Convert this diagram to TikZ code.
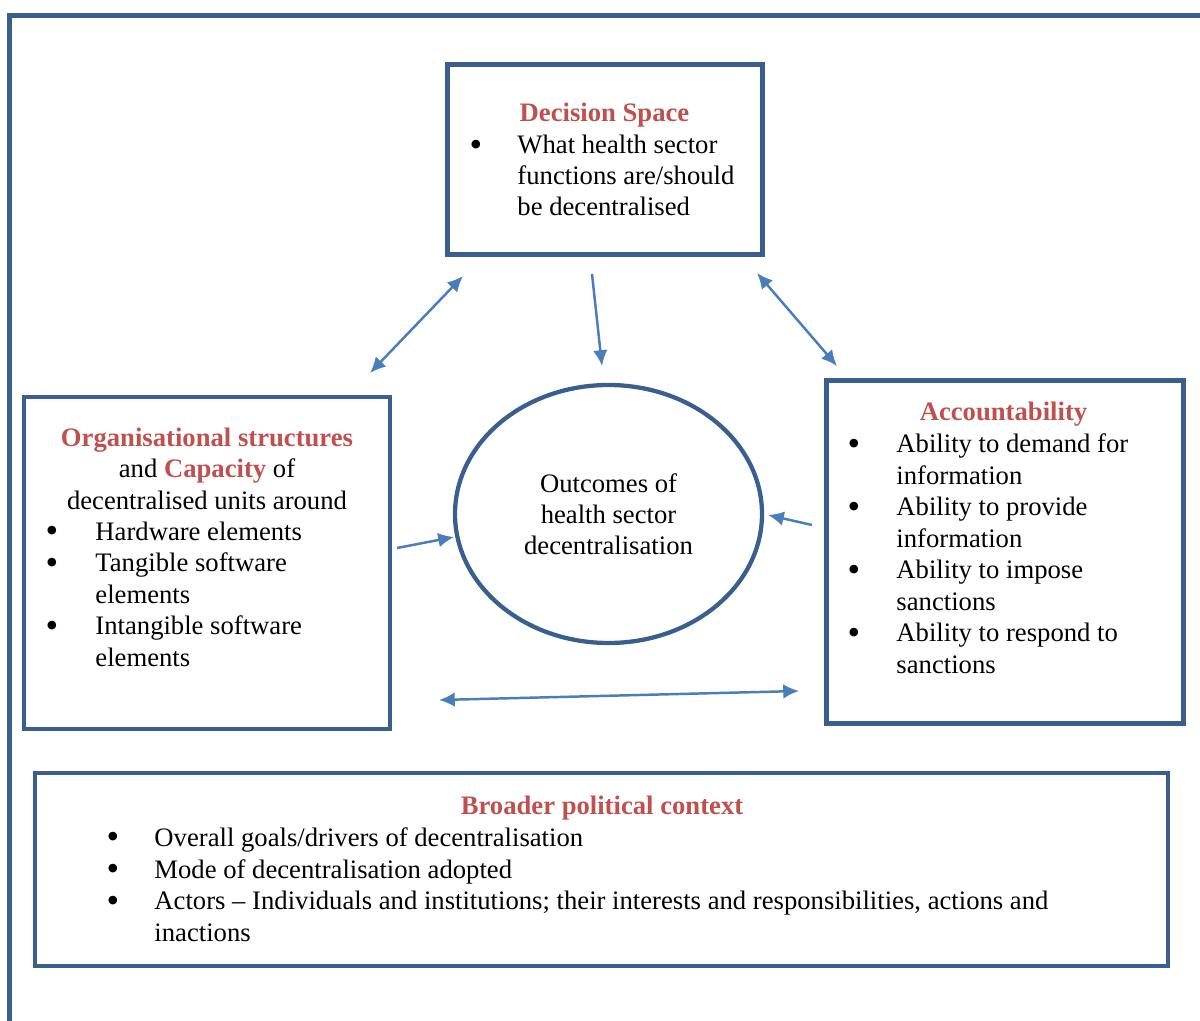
\documentclass[tikz,border=0pt]{standalone}
\usepackage{fontspec}
\setmainfont{Liberation Serif}
\usepackage{tikz}
\usetikzlibrary{arrows.meta}
\usetikzlibrary{shapes.geometric}
\definecolor{frameblue}{HTML}{3A5F8F}
\definecolor{linkblue}{HTML}{4A7EBB}
\definecolor{headred}{HTML}{C0504D}
\newcommand\unitpx{0.4444pt}
\newcommand\bodyfont{\fontsize{11.85}{13.8}\selectfont}
\newcommand\hl[1]{\textcolor{headred}{\bfseries #1}}
\tikzset{>={Latex[length=7pt,width=6.5pt]}}
\tikzset{
    outline/.style = {draw=frameblue, line width=1.9pt},
    box/.style = {outline, rectangle, inner sep=0pt},
    goal/.style = {outline, ellipse, inner sep=0pt, align=center, font=\bodyfont},
    link/.style = {draw=linkblue, line width=1.1pt, ->},
    twoway/.style = {draw=linkblue, line width=1.1pt, <->},
}
% multi-line nodes sit on the baseline of their last line
\tikzset{
    heading/.style = {anchor=base, inner sep=0pt, align=center, font=\bodyfont\bfseries, text=headred},
    itemtext/.style = {anchor=base west, inner sep=0pt, align=left, font=\bodyfont},
    dot/.style = {anchor=base, inner sep=0pt, yshift=-0.9pt, text height=6pt, text depth=0pt,
                  font=\fontsize{16}{16}\selectfont},
}

\begin{document}
\begin{tikzpicture}[x=\unitpx, y=-\unitpx]
    \useasboundingbox (0,0) rectangle (1200,1021);
    % outer frame, open at right and bottom
    \draw[draw=frameblue, line width=2.2pt] (1210,15.5) -- (9.5,15.5) -- (9.5,1030);

    % boxes
    \node[box, minimum width=315*\unitpx, minimum height=190*\unitpx] (space) at (605,159.5) {};
    \node[box, minimum width=366*\unitpx, minimum height=332*\unitpx] (orgs) at (207,563) {};
    \node[box, minimum width=357*\unitpx, minimum height=343*\unitpx] (account) at (1005,552) {};
    \node[box, minimum width=1133*\unitpx, minimum height=193*\unitpx] (context) at (601.5,869.5) {};
    \node[goal, minimum width=307*\unitpx, minimum height=258*\unitpx] (outcome) at (608.5,514)
        {Outcomes of\\health sector\\decentralisation};

    % decision space
    \node[heading] (space-title) at (604.5,122) {Decision Space};
    \node[dot] (space-dot) at (476,154) {\textbullet};
    \node[itemtext] (space-item) at (517,216) {What health sector\\functions are/should\\be decentralised};

    % organisational structures
    \node[heading, font=\bodyfont, text=black] (orgs-title) at (207,509)
        {\hl{Organisational structures}\\and \hl{Capacity} of\\decentralised units around};
    \node[dot] (orgs-dot1) at (52,540) {\textbullet};
    \node[itemtext] (orgs-item1) at (95,540) {Hardware elements};
    \node[dot] (orgs-dot2) at (52,572) {\textbullet};
    \node[itemtext] (orgs-item2) at (95,603) {Tangible software\\elements};
    \node[dot] (orgs-dot3) at (52,635) {\textbullet};
    \node[itemtext] (orgs-item3) at (95,666) {Intangible software\\elements};

    % accountability
    \node[heading] (account-title) at (1003.5,420) {Accountability};
    \foreach \y/\txt [count=\i] in {453/{Ability to demand for\\information},
                                    516/{Ability to provide\\information},
                                    579/{Ability to impose\\sanctions},
                                    642/{Ability to respond to\\sanctions}} {
        \node[dot] (account-dot\i) at (854,\y) {\textbullet};
        \node[itemtext] (account-item\i) at (896,\y+31) {\txt};
    }

    % broader political context
    \node[heading] (context-title) at (602,814) {Broader political context};
    \node[dot] (context-dot1) at (113,846) {\textbullet};
    \node[itemtext] (context-item1) at (154,846) {Overall goals/drivers of decentralisation};
    \node[dot] (context-dot2) at (113,878) {\textbullet};
    \node[itemtext] (context-item2) at (154,878) {Mode of decentralisation adopted};
    \node[dot] (context-dot3) at (113,910) {\textbullet};
    \node[itemtext] (context-item3) at (154,941) {Actors -- Individuals and institutions; their interests and responsibilities, actions and\\inactions};

    % arrow ends
    \coordinate (space-sw) at (463,276);
    \coordinate (orgs-ne) at (370,373);
    \coordinate (space-s) at (592,274);
    \coordinate (outcome-n) at (602,366);
    \coordinate (space-se) at (757,273);
    \coordinate (account-nw) at (837,366);
    \coordinate (orgs-e) at (397,548);
    \coordinate (outcome-w) at (454,537);
    \coordinate (account-w) at (812,525);
    \coordinate (outcome-e) at (768,515);
    \coordinate (orgs-se) at (439,700);
    \coordinate (account-sw) at (799,691);

    \draw[twoway] (orgs-ne) -- (space-sw);
    \draw[link] (space-s) -- (outcome-n);
    \draw[twoway] (space-se) -- (account-nw);
    \draw[link] (orgs-e) -- (outcome-w);
    \draw[link] (account-w) -- (outcome-e);
    \draw[twoway] (orgs-se) -- (account-sw);
\end{tikzpicture}
\end{document}
